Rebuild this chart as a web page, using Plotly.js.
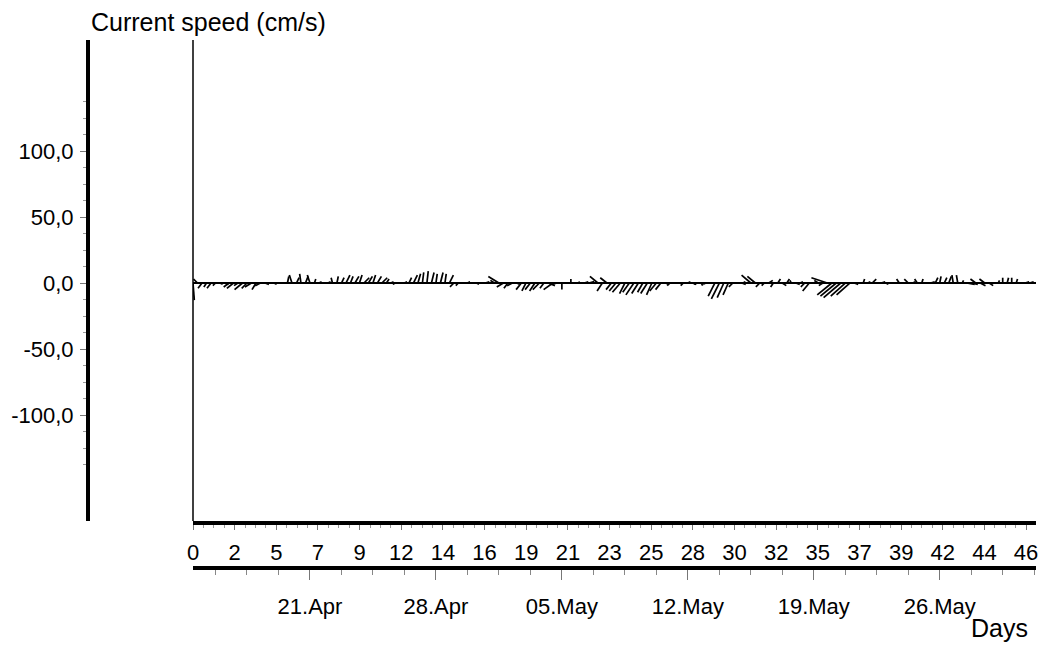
<!DOCTYPE html>
<html>
<head>
<meta charset="utf-8">
<script src="https://cdn.plot.ly/plotly-3.0.1.min.js"></script>
<style>html,body{margin:0;padding:0;background:#fff;}#chart{width:1038px;height:647px;}</style>
</head>
<body>
<div id="chart"></div>
<script>
// ---- data ----
// current samples every 6 hours from day 0; east (u) and north (v) components in cm/s
var sampleStepDays = 0.25;
var uEast = [
  1,-3,-3,-2,   -3,-2,2,3,    -4,-5,-3,-6,   -4,-5,-3,-4,
  3,4,2,3,      2,1,-2,2,     -1,2,-2,1,     2,1,2,-1,
  1,2,3,2,      3,2,4,3,      2,3,4,2,       2,-2,3,2,
  2,3,2,1,      1,2,1,2,      1,3,-3,-2,     3,2,4,2,
  2,3,2,-3,     -8,-5,-3,-4,  2,-4,-3,-4,    -4,-5,-3,5,
  -7,-5,0,3,    0,2,-1,3,     4,2,-6,-4,     -5,-4,-5,-6,
  -4,-5,-6,-5,  -4,-5,-4,-5,  -4,3,-2,2,     3,-2,2,3,
  -2,1,-2,2,    -5,-6,-5,-4,  -3,2,3,-2,     -7,-6,-3,-2,
  3,-2,2,3,     2,-1,3,2,     -3,-5,2,-3,    -3,-12,-11,-12,
  -13,-11,-10,3, 2,1,2,3,     2,3,2,3,       3,-2,2,-3,
  2,-2,1,2,     3,2,1,2,      2,-1,-1,1,     6,5,-4,4,
  -4,3,2,1,     0,1,0,1,      2,3,3,2
];
var vNorth = [
  -13,3,-4,-3,  -4,-2,-1,-1,  -3,-4,-2,-5,   -4,-3,-5,-2,
  -1,0,-1,0,    0,5,6,4,      7,5,6,3,       1,0,1,4,
  5,4,6,5,      5,6,4,5,      6,5,4,3,       1,-1,0,1,
  4,6,7,8,      9,8,7,8,      7,6,-3,-2,     0,1,0,-1,
  0,1,0,2,      5,-3,-4,-2,   -1,-5,-6,-5,   -6,-5,-4,-2,
  -5,-1,-5,0,   3,0,1,1,      1,0,5,-6,      4,-5,-6,-7,
  -8,-7,-9,-8,  -7,-8,-9,-6,  -5,-1,-2,0,    0,-2,1,-1,
  -1,-2,-1,0,   -10,-12,-11,-9, -3,0,-1,1,   6,5,-3,-2,
  2,-3,3,-2,    3,2,-1,1,     -3,-6,1,2,     -2,4,-9,-10,
  -11,-10,-9,-1, 0,3,1,3,     0,1,-1,0,      0,3,0,3,
  1,3,3,0,      1,4,5,4,      5,6,6,2,       -1,-1,3,-2,
  3,-2,0,2,     4,4,4,3,      0,1,1,0
];
var dayTickLabels = ['0','2','5','7','9','12','14','16','19','21','23','25','28','30','32','35','37','39','42','44','46'];
var dayTickStep = 2.315;
var yTickValues = [-100, -50, 0, 50, 100];
var yTickLabels = ['-100,0', '-50,0', '0,0', '50,0', '100,0'];
var startDate = '2011-04-14 12:00';
var weekTickStart = '2011-04-21';
var titleText = 'Current speed (cm/s)';
var xTitleText = 'Days';

// ---- layout geometry ----
var W = 1038, H = 647;
var xDomain = [193 / W, 1036 / W];
var yDomain = [(H - 521) / H, (H - 40) / H];
var xRange = [0, 46.85];
var yRange = [-180.3, 184.1];
var pxPerDay = (xDomain[1] - xDomain[0]) * W / (xRange[1] - xRange[0]);
var pxPerUnit = (yDomain[1] - yDomain[0]) * H / (yRange[1] - yRange[0]);
var daysPerUnit = pxPerUnit / pxPerDay;

// sticks: from (t, 0) to (t + u, v) with equal scale in both directions
var sx = [], sy = [];
for (var i = 0; i < uEast.length; i++) {
  var t = i * sampleStepDays;
  sx.push(t, t + uEast[i] * daysPerUnit, null);
  sy.push(0, vNorth[i], null);
}

var dayTickVals = dayTickLabels.map(function (_, k) { return k * dayTickStep; });
var yMinor = [];
for (var m = -137.5; m <= 137.5; m += 12.5) { if (m % 50 !== 0) yMinor.push(m); }

var msDay = 86400000;
var t0 = new Date(startDate.replace(' ', 'T') + 'Z').getTime();
function iso(ms) { return new Date(ms).toISOString().replace('T', ' ').replace('Z', ''); }

var font = 'Liberation Sans, Arial, sans-serif';

var traces = [
  {
    x: sx, y: sy, xaxis: 'x', yaxis: 'y', mode: 'lines', type: 'scatter',
    line: { color: '#000', width: 1.7 }, hoverinfo: 'skip', showlegend: false, connectgaps: false
  },
  {
    x: [iso(t0), iso(t0 + xRange[1] * msDay)], y: [0, 0], xaxis: 'x2', yaxis: 'y',
    mode: 'markers', marker: { opacity: 0 }, hoverinfo: 'skip', showlegend: false
  }
];

var layout = {
  width: W, height: H,
  margin: { l: 0, r: 0, t: 0, b: 0 },
  paper_bgcolor: '#fff', plot_bgcolor: '#fff',
  showlegend: false,
  font: { family: font, size: 22, color: '#000' },
  xaxis: {
    domain: xDomain, range: xRange, anchor: 'y',
    showline: true, linewidth: 4, linecolor: '#000',
    ticks: 'outside', ticklen: 5, tickwidth: 1, tickcolor: '#777',
    tickmode: 'array', tickvals: dayTickVals, ticktext: dayTickLabels,
    tickfont: { family: font, size: 22, color: '#000' },
    ticklabelstandoff: 4, ticklabeloverflow: 'allow',
    minor: { tickmode: 'linear', tick0: 0, dtick: dayTickStep / 4, ticks: 'outside', ticklen: 3, tickwidth: 1, tickcolor: '#999', showgrid: false },
    showgrid: false, zeroline: false, fixedrange: true
  },
  xaxis2: {
    type: 'date', overlaying: 'x', anchor: 'free', position: (H - 568) / H,
    domain: xDomain,
    range: [iso(t0), iso(t0 + xRange[1] * msDay)],
    showline: true, linewidth: 4, linecolor: '#000',
    ticks: 'outside', ticklen: 10, tickwidth: 1, tickcolor: '#777',
    tickmode: 'linear', tick0: weekTickStart, dtick: 7 * msDay, tickformat: '%d.%b',
    tickfont: { family: font, size: 22, color: '#000' },
    ticklabelstandoff: 8, ticklabeloverflow: 'allow',
    minor: { tickmode: 'linear', tick0: weekTickStart, dtick: 1.75 * msDay, ticks: 'outside', ticklen: 5, tickwidth: 1, tickcolor: '#888', showgrid: false },
    showgrid: false, zeroline: false, fixedrange: true
  },
  yaxis: {
    domain: yDomain, range: yRange, anchor: 'free', position: 88 / W,
    showline: true, linewidth: 4, linecolor: '#000',
    ticks: 'outside', ticklen: 6, tickwidth: 1, tickcolor: '#777',
    tickmode: 'array', tickvals: yTickValues, ticktext: yTickLabels,
    tickfont: { family: font, size: 22, color: '#000' },
    ticklabelstandoff: 2, ticklabeloverflow: 'allow',
    minor: { tickmode: 'array', tickvals: yMinor, ticks: 'outside', ticklen: 3, tickwidth: 1, tickcolor: '#999', showgrid: false },
    showgrid: false, zeroline: true, zerolinewidth: 2, zerolinecolor: '#000', fixedrange: true
  },
  shapes: [
    { type: 'line', xref: 'paper', yref: 'paper', x0: xDomain[0], x1: xDomain[0], y0: yDomain[0], y1: yDomain[1], line: { color: '#000', width: 1.5 } }
  ],
  annotations: [
    { text: titleText, xref: 'paper', yref: 'paper', x: 89 / W, y: (H - 22) / H, xanchor: 'left', yanchor: 'middle', showarrow: false, font: { family: font, size: 25, color: '#000' } },
    { text: xTitleText, xref: 'paper', yref: 'paper', x: 1030 / W, y: (H - 628) / H, xanchor: 'right', yanchor: 'middle', showarrow: false, font: { family: font, size: 25, color: '#000' } }
  ]
};

Plotly.newPlot('chart', traces, layout, { staticPlot: true, displayModeBar: false });
</script>
</body>
</html>
